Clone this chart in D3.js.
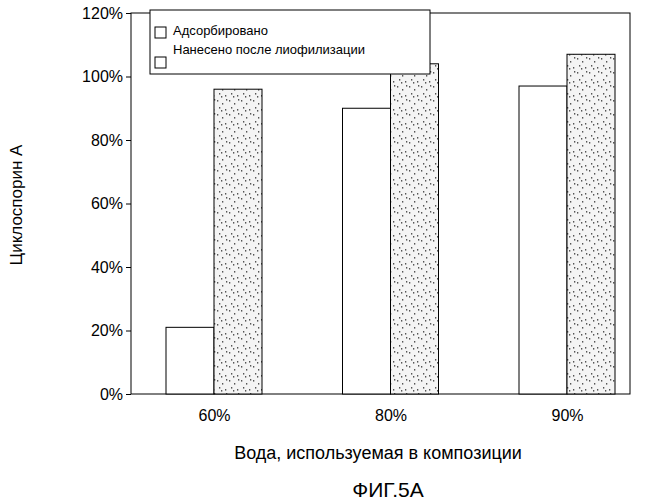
<!DOCTYPE html>
<html><head><meta charset="utf-8">
<script src="https://cdn.jsdelivr.net/npm/d3@7"></script>
<style>body{margin:0;background:#fff}text{font-family:"Liberation Sans",Arial,sans-serif}</style>
</head><body><svg id="c" width="666" height="500"></svg>
<script>
const categories = ["60%", "80%", "90%"];
const adsorbed = [21, 90, 97];
const applied = [96, 104, 107];
const yTicks = [0, 20, 40, 60, 80, 100, 120];

const svg = d3.select("#c");
const m = {left: 131, right: 630, top: 13, bottom: 394};

const x = d3.scalePoint().domain(categories).range([214, 567]);
const y = d3.scaleLinear().domain([0, 120]).range([m.bottom, m.top]);
const bw = 48;

const pat = svg.append("defs").append("pattern").attr("id", "sp")
  .attr("width", 12).attr("height", 14).attr("patternUnits", "userSpaceOnUse");
pat.append("rect").attr("width", 12).attr("height", 14).attr("fill", "#f4f4f4");
[[1,2],[6,5],[9,11],[3,9],[10,1],[5,12]].forEach(p =>
  pat.append("rect").attr("x", p[0]).attr("y", p[1]).attr("width", 1.3).attr("height", 1.6).attr("fill", "#555"));

svg.append("rect").attr("x", m.left).attr("y", m.top).attr("width", m.right - m.left)
  .attr("height", m.bottom - m.top).attr("fill", "none").attr("stroke", "#000");

svg.selectAll(".a").data(categories).enter().append("rect")
  .attr("x", d => x(d) - bw).attr("y", (d, i) => y(adsorbed[i]))
  .attr("width", bw).attr("height", (d, i) => y(0) - y(adsorbed[i]))
  .attr("fill", "#fff").attr("stroke", "#000");
svg.selectAll(".b").data(categories).enter().append("rect")
  .attr("x", d => x(d)).attr("y", (d, i) => y(applied[i]))
  .attr("width", bw).attr("height", (d, i) => y(0) - y(applied[i]))
  .attr("fill", "url(#sp)").attr("stroke", "#000");

const ya = svg.append("g").attr("transform", `translate(${m.left},0)`)
  .call(d3.axisLeft(y).tickValues(yTicks).tickFormat(d => d + "%").tickSize(5));
ya.select(".domain").remove();
ya.selectAll("text").attr("font-size", 16).attr("fill", "#000");
ya.selectAll("line").attr("stroke", "#000");

const xa = svg.append("g").attr("transform", `translate(0,${m.bottom})`)
  .call(d3.axisBottom(x).tickSize(0).tickPadding(16));
xa.select(".domain").remove();
xa.selectAll("text").attr("font-size", 16).attr("fill", "#000");

const lg = svg.append("g");
lg.append("rect").attr("x", 150).attr("y", 10).attr("width", 280).attr("height", 64)
  .attr("fill", "#fff").attr("stroke", "#000");
lg.append("rect").attr("x", 155).attr("y", 27).attr("width", 11).attr("height", 11).attr("fill", "#fff").attr("stroke", "#000");
lg.append("text").attr("x", 173).attr("y", 35).attr("font-size", 13).text("Адсорбировано");
lg.append("rect").attr("x", 155).attr("y", 57).attr("width", 11).attr("height", 11).attr("fill", "#fff").attr("stroke", "#000");
lg.append("text").attr("x", 173).attr("y", 54).attr("font-size", 13).text("Нанесено после лиофилизации");

svg.append("text").attr("x", 378).attr("y", 459).attr("text-anchor", "middle").attr("font-size", 18).text("Вода, используемая в композиции");
svg.append("text").attr("transform", "translate(22,205) rotate(-90)").attr("text-anchor", "middle").attr("font-size", 17).text("Циклоспорин А");
svg.append("text").attr("x", 388).attr("y", 497).attr("text-anchor", "middle").attr("font-size", 21).text("ФИГ.5А");
</script></body></html>
